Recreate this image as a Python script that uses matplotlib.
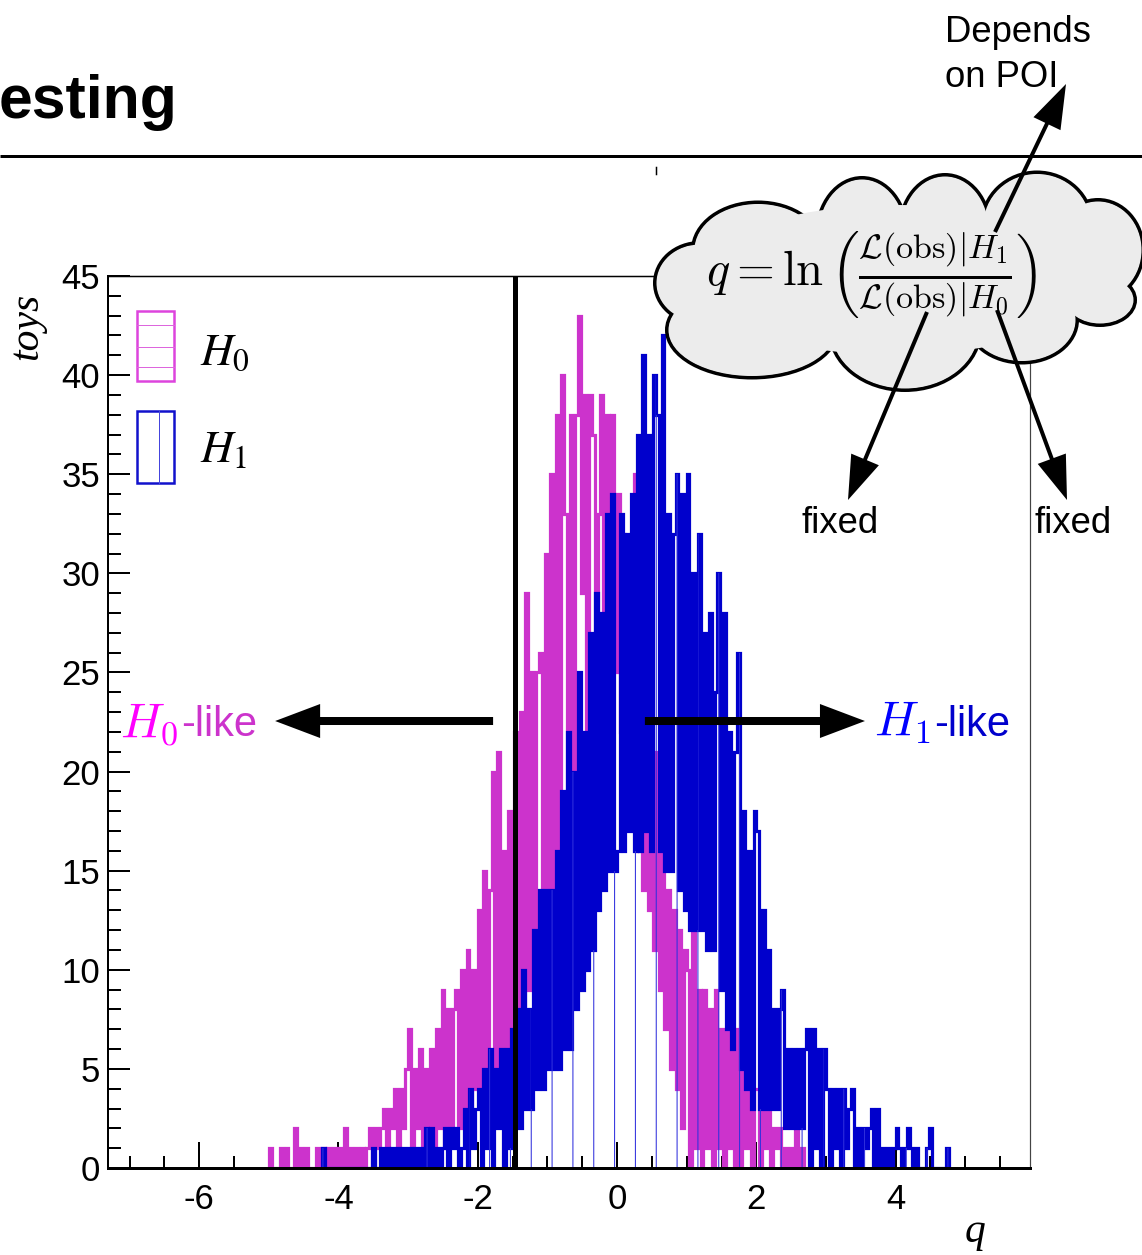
import matplotlib
matplotlib.use("Agg")
import numpy as np
import matplotlib.pyplot as plt
from matplotlib.patches import Ellipse, Rectangle, FancyArrow
from matplotlib.ticker import MultipleLocator

plt.rcParams['font.family'] = ['Liberation Sans', 'DejaVu Sans']
plt.rcParams['axes.unicode_minus'] = False
plt.rcParams['hatch.linewidth'] = 0.6

W, H = 1142, 1255
DPI = 125
PT = 72.0 / DPI  # points per pixel

# ---- toy distributions of the test statistic q (fine binning) ----
bin_width = 0.04
h0_start = -5.00
h1_start = -4.24

h0_counts = [
    # -5.00 .. -4.04
    1, 0, 0, 0, 1, 0, 1, 0, 0, 2, 0, 1, 0, 1, 0, 0, 0, 1, 0, 1, 0, 1, 0, 1, 0,
    # -4.00 .. -3.04
    1, 0, 2, 0, 1, 0, 1, 0, 1, 0, 1, 2, 0, 2, 1, 2, 3, 1, 3, 2, 4, 1, 4, 2, 5,
    # -3.00 .. -2.04
    7, 1, 5, 2, 6, 1, 5, 2, 6, 1, 7, 2, 9, 1, 8, 2, 8, 9, 2, 10, 3, 11, 3, 10, 4,
    # -2.00 .. -1.04
    13, 4, 15, 5, 14, 20, 5, 21, 6, 16, 6, 18, 7, 22, 7, 23, 8, 29, 9, 25, 10, 25, 26, 11, 31,
    # -1.00 .. -0.04
    13, 35, 14, 38, 16, 40, 33, 18, 38, 19, 38, 43, 29, 39, 22, 39, 37, 24, 33, 39, 26, 38, 27, 38, 25,
    # 0.00 .. 0.96
    34, 22, 32, 19, 30, 18, 35, 16, 25, 14, 22, 13, 20, 11, 21, 9, 19, 7, 14, 5, 13, 4, 12, 2, 11,
    # 1.00 .. 1.96
    10, 0, 12, 1, 9, 0, 9, 1, 8, 0, 9, 1, 7, 0, 7, 1, 6, 0, 7, 0, 5, 1, 6, 0, 4,
    # 2.00 .. 2.64
    4, 0, 3, 1, 3, 0, 2, 1, 2, 0, 1, 0, 1, 0, 2, 0, 1,
]

h1_counts = [
    # -4.24 .. -4.04
    1, 0, 0, 0, 0, 0,
    # -4.00 .. -3.04
    0, 0, 0, 0, 0, 0, 0, 0, 0, 0, 0, 0, 1, 0, 0, 1, 0, 1, 0, 1, 0, 1, 0, 1, 0,
    # -3.00 .. -2.04
    1, 0, 1, 0, 1, 0, 2, 0, 2, 0, 1, 0, 1, 2, 0, 2, 1, 2, 0, 1, 3, 0, 4, 1, 3,
    # -2.00 .. -1.04
    4, 0, 5, 1, 6, 0, 5, 2, 6, 0, 6, 1, 7, 2, 8, 2, 10, 3, 8, 3, 12, 4, 14, 4, 14,
    # -1.00 .. -0.04
    5, 14, 5, 16, 5, 19, 6, 22, 6, 20, 8, 25, 9, 22, 10, 27, 11, 29, 13, 28, 14, 33, 15, 34, 15,
    # 0.00 .. 0.96
    16, 33, 16, 32, 17, 34, 16, 37, 16, 41, 17, 37, 16, 40, 38, 16, 42, 15, 33, 15, 32, 35, 14, 34, 13,
    # 1.00 .. 1.96
    35, 12, 30, 12, 32, 12, 27, 11, 28, 11, 24, 30, 9, 28, 7, 22, 6, 21, 26, 5, 18, 4, 16, 3, 18,
    # 2.00 .. 2.96
    17, 3, 13, 3, 11, 3, 8, 3, 8, 9, 2, 6, 2, 6, 2, 6, 2, 6, 7, 0, 7, 1, 6, 0, 6,
    # 3.00 .. 3.96
    4, 0, 4, 1, 4, 0, 4, 1, 3, 4, 0, 2, 0, 2, 1, 2, 3, 0, 3, 0, 1, 0, 1, 0, 1,
    # 4.00 .. 4.72
    2, 1, 0, 1, 2, 1, 0, 1, 0, 0, 0, 1, 2, 0, 0, 0, 0, 0, 1,
]

q_cut = -1.47
x_range = (-7.31, 5.93)
y_range = (0, 45)
x_major = [-6, -4, -2, 0, 2, 4]
y_major = list(range(0, 46, 5))

edges0 = h0_start + bin_width * np.arange(len(h0_counts) + 1)
edges1 = h1_start + bin_width * np.arange(len(h1_counts) + 1)

c_h0 = '#cc33cc'
c_h1 = '#0000cc'
hist_lw = 3.2 * PT

fig = plt.figure(figsize=(W / DPI, H / DPI), dpi=DPI)
fig.patch.set_facecolor('white')

ax = fig.add_axes([108 / W, 1 - 1168 / H, 922 / W, 892 / H])
ax.set_facecolor('white')

# H0 outline, then H1 outline and its vertical hatching on top
ax.stairs(h0_counts, edges0, color=c_h0, lw=hist_lw, zorder=2)
ax.stairs(h1_counts, edges1, color=c_h1, lw=hist_lw, zorder=3)
ax.stairs(h1_counts, edges1, fill=True, facecolor='none', edgecolor='#3030dd',
          hatch='|', lw=0, zorder=4)

# cut value on q
ax.axvline(q_cut, color='black', lw=5 * PT, zorder=6)

# direction arrows
arrow_y = 22.55
ypx = (y_range[1] - y_range[0]) / 892.0
xpx = (x_range[1] - x_range[0]) / 922.0
for x0, x1 in [(-1.78, -4.91), (0.40, 3.56)]:
    ax.add_patch(FancyArrow(x0, arrow_y, x1 - x0, 0, width=8 * ypx,
                            head_width=34 * ypx, head_length=45 * xpx,
                            length_includes_head=True, color='black', lw=0,
                            zorder=7))

ax.set_xlim(*x_range)
ax.set_ylim(*y_range)
ax.set_xticks(x_major)
ax.set_yticks(y_major)
ax.xaxis.set_minor_locator(MultipleLocator(0.5))
ax.yaxis.set_minor_locator(MultipleLocator(1))
ax.tick_params(axis='both', which='both', direction='in', top=False, right=False,
               width=2 * PT, labelsize=20)
ax.tick_params(axis='x', which='major', length=26 * PT, pad=15 * PT)
ax.tick_params(axis='x', which='minor', length=12 * PT)
ax.tick_params(axis='y', which='major', length=22 * PT, pad=8 * PT)
ax.tick_params(axis='y', which='minor', length=13 * PT)
ax.spines['left'].set_linewidth(2 * PT)
ax.spines['bottom'].set_linewidth(3 * PT)
ax.spines['top'].set_linewidth(1.5 * PT)
ax.spines['right'].set_linewidth(1.2 * PT)
ax.spines['right'].set_color('#444444')
for sp in ax.spines.values():
    sp.set_zorder(8)

# ---- overlay in pixel units for annotations ----
ov = fig.add_axes([0, 0, 1, 1], zorder=10)
ov.set_xlim(0, W)
ov.set_ylim(H, 0)
ov.axis('off')

# slide title (left part runs off the page) and rule
ov.text(-1, 118, 'esting', ha='left', va='baseline',
        fontsize=35, fontweight='bold', color='black')
ov.plot([0, W], [155.5, 155.5], color='black', lw=3 * PT, solid_capstyle='butt')
ov.plot([656, 656], [167, 174], color='black', lw=1.5 * PT)

# axis titles
ov.text(27, 326, 'toys', rotation=90, ha='center', va='center', fontsize=24,
        family='Liberation Serif', style='italic')
ov.text(975, 1232, 'q', ha='center', va='center', fontsize=24,
        family='Liberation Serif', style='italic')

# legend
ov.add_patch(Rectangle((137, 311), 37, 70, fill=False, edgecolor='#dd44dd', lw=2.5 * PT))
for yy in (325, 347, 367):
    ov.plot([137, 174], [yy, yy], color='#dd66dd', lw=1 * PT)
ov.add_patch(Rectangle((137, 411), 37, 72, fill=False, edgecolor='#1111cc', lw=2.5 * PT))
ov.plot([159, 159], [411, 483], color='#4444dd', lw=1 * PT)
ov.text(200, 365, '$H_0$', fontsize=26, math_fontfamily='stix', va='baseline')
ov.text(200, 462, '$H_1$', fontsize=26, math_fontfamily='stix', va='baseline')

# H0-like / H1-like labels
fig.canvas.draw()
renderer = fig.canvas.get_renderer()


def two_tone(x, y, sym, c_sym, c_txt):
    t = ov.text(x, y, sym, color=c_sym, fontsize=28, math_fontfamily='cm',
                va='baseline', ha='left')
    bb = t.get_window_extent(renderer)
    xd = ov.transData.inverted().transform((bb.x1, bb.y0))[0]
    ov.text(xd + 3, y, '-like', color=c_txt, fontsize=24, va='baseline', ha='left')


two_tone(120, 736, '$H_0$', '#ff00ff', '#cc33cc')
two_tone(874, 736, '$H_1$', '#0000ff', '#0000cc')

# cloud with the definition of q
cloud = [
    (700, 283, 90, 80), (752, 330, 170, 95), (905, 330, 150, 120),
    (1022, 320, 110, 85), (1100, 300, 70, 50), (1098, 250, 90, 100),
    (1037, 225, 110, 105), (945, 230, 90, 110), (862, 235, 90, 114),
    (758, 250, 130, 95),
]
gray = '#ececec'
for cx, cy, w, h in cloud:
    ov.add_patch(Ellipse((cx, cy), w, h, facecolor=gray, edgecolor='black',
                         lw=4 * PT, zorder=1))
for cx, cy, w, h in cloud:
    ov.add_patch(Ellipse((cx, cy), w - 3, h - 3, facecolor=gray, edgecolor='none',
                         zorder=2))
ov.add_patch(Ellipse((895, 280), 400, 150, facecolor=gray, edgecolor='none', zorder=2))

ov.text(872, 275,
        r'$q = \ln\left(\frac{\mathcal{L}(\mathrm{obs})|H_1}{\mathcal{L}(\mathrm{obs})|H_0}\right)$',
        ha='center', va='center', fontsize=28, math_fontfamily='cm', zorder=3)

for (x0, y0), (x1, y1) in [((995, 232), (1066, 84)),
                           ((927, 312), (848, 500)),
                           ((997, 310), (1067, 500))]:
    ov.add_patch(FancyArrow(x0, y0, x1 - x0, y1 - y0, width=4, head_width=30,
                            head_length=44, length_includes_head=True,
                            color='black', lw=0, zorder=4))

ov.text(945, 42, 'Depends', fontsize=21, va='baseline', ha='left')
ov.text(945, 87, 'on POI', fontsize=21, va='baseline', ha='left')
ov.text(840, 533, 'fixed', fontsize=21, va='baseline', ha='center')
ov.text(1073, 533, 'fixed', fontsize=21, va='baseline', ha='center')

fig.savefig('out.png', dpi=DPI)
